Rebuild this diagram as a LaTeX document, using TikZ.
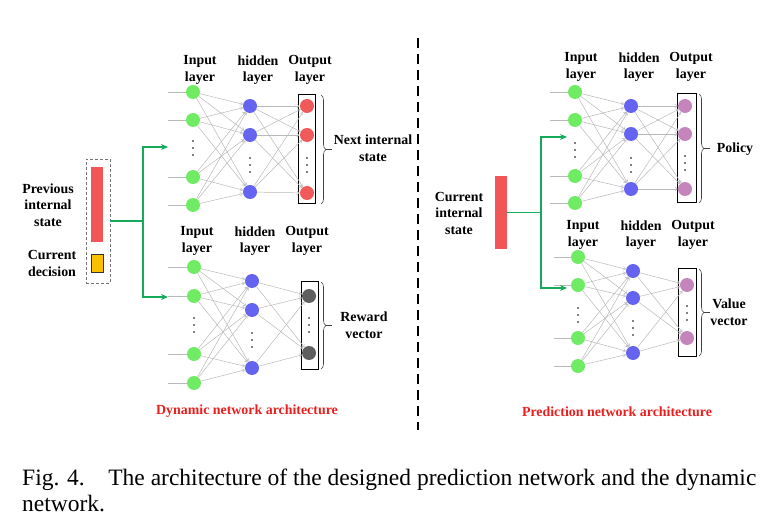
\documentclass[tikz,border=0pt]{standalone}
\usepackage{fontspec}
\setmainfont{Liberation Serif}
\usetikzlibrary{arrows.meta,decorations.pathreplacing}
\definecolor{ingreen}{RGB}{112,236,100}
\definecolor{hidblue}{RGB}{100,100,240}
\definecolor{outred}{RGB}{240,90,90}
\definecolor{outgray}{RGB}{95,95,95}
\definecolor{outpurp}{RGB}{196,132,188}
\definecolor{wgray}{RGB}{185,185,185}
\definecolor{barred}{RGB}{242,85,85}
\definecolor{baryel}{RGB}{250,192,0}
\definecolor{arrgreen}{RGB}{20,170,90}
\definecolor{captred}{RGB}{235,30,30}
\begin{document}
\begin{tikzpicture}[x=1pt,y=-1pt,
  neuron/.style={circle, minimum size=14pt, inner sep=0pt},
  inn/.style={neuron, fill=ingreen},
  hid/.style={neuron, fill=hidblue},
  wire/.style={draw=wgray, line width=0.5pt, -{Straight Barb[length=2.5pt,width=3.5pt]}},
  feed/.style={draw=wgray, line width=0.5pt},
  lbl/.style={font=\bfseries\fontsize{13.9}{16.5}\selectfont, align=center, inner sep=0pt},
  arch/.style={lbl, text=captred},
  outbox/.style={draw=black, line width=1pt, inner sep=0pt},
  brc/.style={decorate, decoration={brace, amplitude=5pt}, draw=black!75, line width=0.6pt},
  tickline/.style={draw=black!75, line width=0.6pt},
  gline/.style={draw=arrgreen, line width=1.8pt},
  garrow/.style={gline, -{Stealth[length=7pt,width=6pt]}},
  dotc/.style={fill=black, radius=0.9pt},
  captext/.style={font=\fontsize{23.5}{26}\selectfont, inner sep=0pt, anchor=base west}
]
\useasboundingbox (0,0) rectangle (760,521);

% ---------------- Left top network (A) ----------------
\node[outbox, minimum width=17pt, minimum height=109pt] (Abox) at (306.5,149.5) {};
\foreach \i/\y in {1/92,2/120,3/177,4/205} {
  \node[inn] (Ai\i) at (193,\y) {};
  \coordinate (Af\i) at (168,\y);
  \draw[feed] (Af\i) -- (Ai\i);
}
\foreach \j/\y in {1/106,2/135,3/192} \node[hid] (Ah\j) at (250,\y) {};
\foreach \k/\y in {1/106,2/135,3/193} \node[neuron, fill=outred] (Ao\k) at (307,\y) {};
\foreach \i in {1,...,4} \foreach \j in {1,2,3} \draw[wire] (Ai\i) -- (Ah\j);
\foreach \j in {1,2,3} \foreach \k in {1,2,3} \draw[wire] (Ah\j) -- (Ao\k);
\foreach \x/\y in {193/148,250/165,307/165}
  \foreach \d in {-7,0,7} \fill[dotc] (\x,\y+\d) circle;
\node[lbl] (AlI) at (200,70) {Input\\layer};
\node[lbl] (AlH) at (258,70) {hidden\\layer};
\node[lbl] (AlO) at (310,70) {Output\\layer};
\coordinate (Abt) at (321,95); \coordinate (Abb) at (321,204);
\draw[brc] (Abt) -- (Abb);
\coordinate (Atk1) at (326,149.5); \coordinate (Atk2) at (332,149.5);
\draw[tickline] (Atk1) -- (Atk2);
\node[lbl] (Aout) at (373,148) {Next internal\\state};

% ---------------- Left bottom network (B) ----------------
\node[outbox, minimum width=17pt, minimum height=87pt] (Bbox) at (309.5,325.5) {};
\foreach \i/\y in {1/267,2/296,3/354,4/383} {
  \node[inn] (Bi\i) at (194,\y) {};
  \coordinate (Bf\i) at (168,\y);
  \draw[feed] (Bf\i) -- (Bi\i);
}
\foreach \j/\y in {1/281,2/310,3/368} \node[hid] (Bh\j) at (252,\y) {};
\foreach \k/\y in {1/296,2/353} \node[neuron, fill=outgray] (Bo\k) at (309,\y) {};
\foreach \i in {1,...,4} \foreach \j in {1,2,3} \draw[wire] (Bi\i) -- (Bh\j);
\foreach \j in {1,2,3} \foreach \k in {1,2} \draw[wire] (Bh\j) -- (Bo\k);
\foreach \x/\y in {194/325,252/340,309/325}
  \foreach \d in {-7,0,7} \fill[dotc] (\x,\y+\d) circle;
\node[lbl] (BlI) at (197,241) {Input\\layer};
\node[lbl] (BlH) at (255,241) {hidden\\layer};
\node[lbl] (BlO) at (307,241) {Output\\layer};
\coordinate (Bbt) at (321,282); \coordinate (Bbb) at (321,369);
\draw[brc] (Bbt) -- (Bbb);
\coordinate (Btk1) at (326,325.5); \coordinate (Btk2) at (332,325.5);
\draw[tickline] (Btk1) -- (Btk2);
\node[lbl] (Bout) at (364,325) {Reward\\vector};

% ---------------- Left input block ----------------
\node[draw=black!55, dashed, dash pattern=on 3pt off 2pt, line width=0.8pt, minimum width=24pt, minimum height=124pt, inner sep=0pt] (lbox) at (98,221) {};
\node[fill=barred, minimum width=12pt, minimum height=75pt, inner sep=0pt] (lbar) at (97,204.5) {};
\node[fill=baryel, draw=black!80, line width=0.6pt, minimum width=12pt, minimum height=18pt, inner sep=0pt] (lyel) at (97,263) {};
\node[lbl] (lprev) at (48,205) {Previous\\internal\\state};
\node[lbl] (lcur) at (52,263.5) {Current\\decision};
\coordinate (Lj) at (143,221);
\coordinate (Lt) at (168,147);
\coordinate (Lb) at (168,297);
\draw[gline] (lbox.east) -- (Lj);
\draw[garrow] (Lj) |- (Lt);
\draw[garrow] (Lj) |- (Lb);
\node[arch] (Larch) at (247,411) {Dynamic network architecture};

% ---------------- Divider ----------------
\coordinate (dvt) at (418,38); \coordinate (dvb) at (418,430);
\draw[line width=1.8pt, dash pattern=on 10pt off 6pt] (dvt) -- (dvb);

% ---------------- Right top network (C) ----------------
\node[outbox, minimum width=19pt, minimum height=109pt] (Cbox) at (686.5,148.5) {};
\foreach \i/\y in {1/92,2/120,3/176,4/203} {
  \node[inn] (Ci\i) at (575,\y) {};
  \coordinate (Cf\i) at (550,\y);
  \draw[feed] (Cf\i) -- (Ci\i);
}
\foreach \j/\y in {1/106,2/134,3/189} \node[hid] (Ch\j) at (631,\y) {};
\foreach \k/\y in {1/106,2/134,3/189} \node[neuron, fill=outpurp] (Co\k) at (685,\y) {};
\foreach \i in {1,...,4} \foreach \j in {1,2,3} \draw[wire] (Ci\i) -- (Ch\j);
\foreach \j in {1,2,3} \foreach \k in {1,2,3} \draw[wire] (Ch\j) -- (Co\k);
\foreach \x/\y in {575/150,631/165,685/163}
  \foreach \d in {-7,0,7} \fill[dotc] (\x,\y+\d) circle;
\node[lbl] (ClI) at (581,67) {Input\\layer};
\node[lbl] (ClH) at (639,67) {hidden\\layer};
\node[lbl] (ClO) at (691,67) {Output\\layer};
\coordinate (Cbt) at (699,94); \coordinate (Cbb) at (699,203);
\draw[brc] (Cbt) -- (Cbb);
\coordinate (Ctk1) at (704,148.5); \coordinate (Ctk2) at (710,148.5);
\draw[tickline] (Ctk1) -- (Ctk2);
\node[lbl] (Cout) at (735,149) {Policy};

% ---------------- Right bottom network (D) ----------------
\node[outbox, minimum width=18pt, minimum height=87pt] (Dbox) at (687,312.5) {};
\foreach \i/\y in {1/257,2/285,3/338,4/366} {
  \node[inn] (Di\i) at (578,\y) {};
  \coordinate (Df\i) at (554,\y);
  \draw[feed] (Df\i) -- (Di\i);
}
\foreach \j/\y in {1/271,2/298,3/353} \node[hid] (Dh\j) at (633,\y) {};
\foreach \k/\y in {1/285,2/338} \node[neuron, fill=outpurp] (Do\k) at (687,\y) {};
\foreach \i in {1,...,4} \foreach \j in {1,2,3} \draw[wire] (Di\i) -- (Dh\j);
\foreach \j in {1,2,3} \foreach \k in {1,2} \draw[wire] (Dh\j) -- (Do\k);
\foreach \x/\y in {578/315,633/328,687/313}
  \foreach \d in {-7,0,7} \fill[dotc] (\x,\y+\d) circle;
\node[lbl] (DlI) at (583,235) {Input\\layer};
\node[lbl] (DlH) at (641,235) {hidden\\layer};
\node[lbl] (DlO) at (693,235) {Output\\layer};
\coordinate (Dbt) at (699,269); \coordinate (Dbb) at (699,356);
\draw[brc] (Dbt) -- (Dbb);
\coordinate (Dtk1) at (704,312.5); \coordinate (Dtk2) at (710,312.5);
\draw[tickline] (Dtk1) -- (Dtk2);
\node[lbl] (Dout) at (729,312) {Value\\vector};

% ---------------- Right input block ----------------
\node[fill=barred, minimum width=12pt, minimum height=73pt, inner sep=0pt] (rbar) at (501,212.5) {};
\node[lbl] (rcur) at (459,213) {Current\\internal\\state};
\coordinate (Rj) at (541,212.5);
\coordinate (Rt) at (567,137);
\coordinate (Rb) at (567,288);
\draw[gline] (rbar.east) -- (Rj);
\draw[garrow] (Rj) |- (Rt);
\draw[garrow] (Rj) |- (Rb);
\node[arch] (Rarch) at (617,412) {Prediction network architecture};

% ---------------- Caption ----------------
\node[captext] (cap1) at (22,485) {Fig. 4.\hspace{1em}The architecture of the designed prediction network and the dynamic};
\node[captext] (cap2) at (22,511) {network.};
\end{tikzpicture}
\end{document}
